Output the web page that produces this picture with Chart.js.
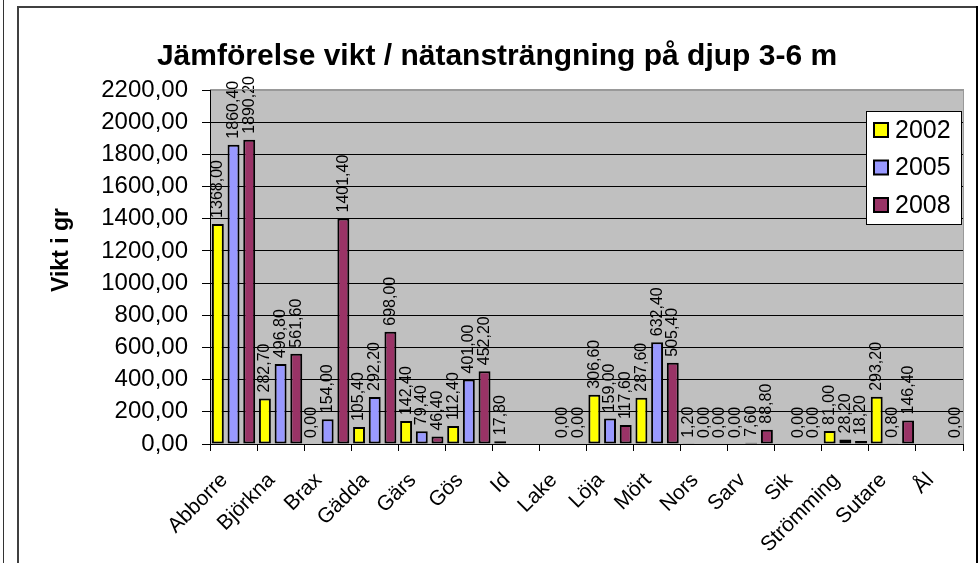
<!DOCTYPE html>
<html><head><meta charset="utf-8">
<script src="https://cdn.jsdelivr.net/npm/chart.js@4"></script>
<style>html,body{margin:0;padding:0;background:#fff;overflow:hidden}canvas{display:block}</style>
</head><body>
<canvas id="c" width="979" height="563"></canvas>
<script>
const categories = ["Abborre","Björkna","Brax","Gädda","Gärs","Gös","Id","Lake","Löja","Mört","Nors","Sarv","Sik","Strömming","Sutare","Ål"];
const seriesNames = ["2002","2005","2008"];
const values2002 = [1368.00, 282.70, 0.00, 105.40, 142.40, 112.40, 17.80, null, 306.60, 287.60, 1.20, 0.00, null, 81.00, 293.20, null];
const values2005 = [1860.40, 496.80, 154.00, 292.20, 79.40, 401.00, null, 0.00, 159.00, 632.40, 0.00, 7.60, 0.00, 28.20, 0.80, null];
const values2008 = [1890.20, 561.60, 1401.40, 698.00, 46.40, 452.20, null, 0.00, 117.60, 505.40, 0.00, 88.80, 0.00, 18.20, 146.40, 0.00];
const yMin = 0, yMax = 2200, yStep = 200;
const titleText = "Jämförelse vikt / nätansträngning på djup 3-6 m";
const yTitleText = "Vikt i gr";
const seriesColors = ["#FFFF00", "#9999FF", "#993366"];

const FONT = "'Liberation Sans', Arial, sans-serif";
const fmt = v => v.toFixed(2).replace('.', ',');

const framePlugin = {
  id: 'frame',
  beforeDraw(chart) {
    const c = chart.ctx, a = chart.chartArea;
    c.save();
    c.fillStyle = '#fff'; c.fillRect(0, 0, chart.width, chart.height);
    c.fillStyle = '#333'; c.fillRect(3, 0, 1, chart.height);
    c.fillStyle = '#404040'; c.fillRect(17, 6, 2, chart.height - 6); c.fillRect(17, 6, 960, 2);
    c.fillStyle = '#000'; c.fillRect(976, 6, 2, chart.height - 6);
    c.fillStyle = '#C0C0C0'; c.fillRect(a.left, a.top, a.right - a.left, a.bottom - a.top);
    c.restore();
  },
  afterDatasetsDraw(chart) {
    const c = chart.ctx;
    c.save();
    c.fillStyle = '#000';
    c.font = '16px ' + FONT;
    c.textAlign = 'left'; c.textBaseline = 'middle';
    chart.data.datasets.forEach((ds, di) => {
      const meta = chart.getDatasetMeta(di);
      meta.data.forEach((bar, i) => {
        const v = ds.data[i];
        if (v === null || v === undefined) return;
        c.save();
        c.translate(bar.x, bar.y - 6);
        c.rotate(-Math.PI / 2);
        c.fillText(fmt(v), 0, 0);
        c.restore();
      });
    });
    c.restore();
  },
  afterDraw(chart) {
    const c = chart.ctx, a = chart.chartArea;
    c.save();
    c.fillStyle = '#999';
    c.fillRect(a.left, a.top - 1, a.right - a.left + 1, 1);
    c.fillRect(a.right, a.top - 1, 1, a.bottom - a.top + 1);
    c.fillStyle = '#000';
    c.font = 'bold 30px ' + FONT;
    c.textAlign = 'center'; c.textBaseline = 'alphabetic';
    c.fillText(titleText, 497, 65);
    c.save();
    c.font = 'bold 23px ' + FONT;
    c.translate(68, 250);
    c.rotate(-Math.PI / 2);
    c.textAlign = 'center'; c.textBaseline = 'alphabetic';
    c.fillText(yTitleText, 0, 0);
    c.restore();
    const lx = 866, ly = 111, lw = 95, lh = 113;
    c.fillStyle = '#fff'; c.fillRect(lx, ly, lw, lh);
    c.strokeStyle = '#000'; c.lineWidth = 1; c.strokeRect(lx + 0.5, ly + 0.5, lw, lh);
    c.font = '25px ' + FONT;
    c.textAlign = 'left'; c.textBaseline = 'middle';
    chart.data.datasets.forEach((ds, i) => {
      const cy = 130 + i * 37.5;
      c.fillStyle = ds.backgroundColor;
      c.fillRect(874, cy - 7, 14, 14);
      c.strokeStyle = '#000'; c.lineWidth = 2;
      c.strokeRect(874, cy - 7, 14, 14);
      c.fillStyle = '#000';
      c.fillText(ds.label, 895, cy + 1);
    });
    c.restore();
  }
};

const datasets = [values2002, values2005, values2008].map((vals, i) => ({
  label: seriesNames[i],
  data: vals,
  backgroundColor: seriesColors[i],
  borderColor: '#000',
  borderWidth: 2,
  borderSkipped: false,
  categoryPercentage: 1.0,
  barPercentage: 0.76
}));

new Chart(document.getElementById('c'), {
  type: 'bar',
  data: { labels: categories, datasets },
  options: {
    responsive: false,
    animation: false,
    devicePixelRatio: 1,
    layout: { padding: { left: 0, top: 90, right: 16, bottom: 0 } },
    plugins: { legend: { display: false }, title: { display: false }, tooltip: { enabled: false } },
    scales: {
      x: {
        afterFit(s) { s.height = 119; },
        grid: { drawOnChartArea: false, drawTicks: true, tickLength: 7, color: '#000', offset: true },
        border: { color: '#000', width: 1 },
        ticks: {
          autoSkip: false, minRotation: 45, maxRotation: 45, padding: 17, labelOffset: -9,
          color: '#000', font: { family: FONT, size: 21 }
        }
      },
      y: {
        min: yMin, max: yMax,
        afterFit(s) { s.width = 210; },
        grid: {
          color: ctx => (ctx.tick && ctx.tick.value === yMax) ? '#999' : '#000',
          tickColor: '#000', tickLength: 8, lineWidth: 1
        },
        border: { color: '#000', width: 1 },
        ticks: {
          stepSize: yStep, padding: 14, color: '#000',
          font: { family: FONT, size: 24 },
          callback: v => fmt(v)
        }
      }
    }
  },
  plugins: [framePlugin]
});
</script>
</body></html>
